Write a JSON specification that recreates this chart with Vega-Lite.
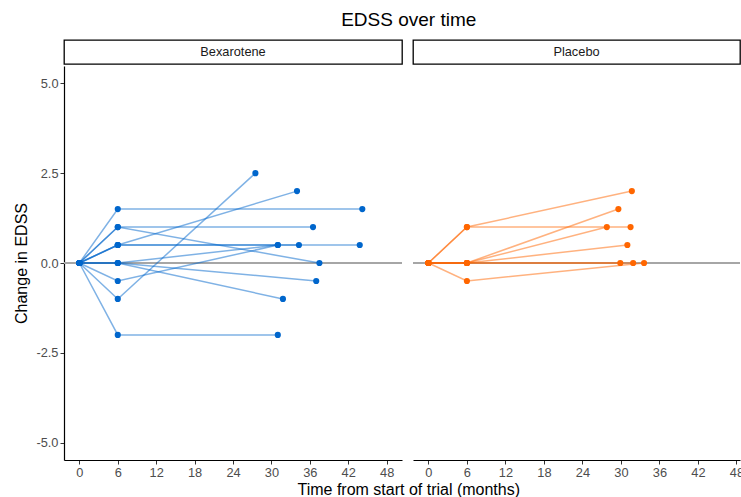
{
  "$schema": "https://vega.github.io/schema/vega-lite/v6.json",
  "padding": {"left": 13, "top": 11, "right": 0, "bottom": 0},
  "background": "white",
  "config": {
    "font": "Liberation Sans",
    "view": {"stroke": null},
    "axis": {
      "grid": false,
      "domainColor": "black",
      "domainWidth": 1.2,
      "tickColor": "#333333",
      "tickSize": 4,
      "tickWidth": 1,
      "labelColor": "#4d4d4d",
      "labelFontSize": 12.8,
      "labelFont": "Liberation Sans",
      "labelPadding": 2,
      "titleFont": "Liberation Sans",
      "titleFontSize": 16,
      "titleFontWeight": "normal",
      "titleColor": "black"
    },
    "concat": {"spacing": 9}
  },
  "title": {
    "text": "EDSS over time",
    "fontSize": 19,
    "fontWeight": "normal",
    "font": "Liberation Sans",
    "color": "black",
    "anchor": "middle",
    "offset": 9,
    "dx": 30
  },
  "datasets": {
    "edss": [
      {"patient": "B1", "arm": "Bexarotene", "month": 0, "change": 0},
      {"patient": "B1", "arm": "Bexarotene", "month": 6, "change": 1.5},
      {"patient": "B1", "arm": "Bexarotene", "month": 44.2, "change": 1.5},
      {"patient": "B2", "arm": "Bexarotene", "month": 0, "change": 0},
      {"patient": "B2", "arm": "Bexarotene", "month": 6, "change": 1.0},
      {"patient": "B2", "arm": "Bexarotene", "month": 36.5, "change": 1.0},
      {"patient": "B3", "arm": "Bexarotene", "month": 0, "change": 0},
      {"patient": "B3", "arm": "Bexarotene", "month": 6, "change": 1.0},
      {"patient": "B3", "arm": "Bexarotene", "month": 37.5, "change": 0},
      {"patient": "B4", "arm": "Bexarotene", "month": 0, "change": 0},
      {"patient": "B4", "arm": "Bexarotene", "month": 6, "change": 0.5},
      {"patient": "B4", "arm": "Bexarotene", "month": 34.0, "change": 2.0},
      {"patient": "B5", "arm": "Bexarotene", "month": 0, "change": 0},
      {"patient": "B5", "arm": "Bexarotene", "month": 6, "change": 0.5},
      {"patient": "B5", "arm": "Bexarotene", "month": 43.8, "change": 0.5},
      {"patient": "B6", "arm": "Bexarotene", "month": 0, "change": 0},
      {"patient": "B6", "arm": "Bexarotene", "month": 6, "change": 0.5},
      {"patient": "B6", "arm": "Bexarotene", "month": 34.3, "change": 0.5},
      {"patient": "B7", "arm": "Bexarotene", "month": 0, "change": 0},
      {"patient": "B7", "arm": "Bexarotene", "month": 6, "change": 0},
      {"patient": "B7", "arm": "Bexarotene", "month": 31.0, "change": 0.5},
      {"patient": "B8", "arm": "Bexarotene", "month": 0, "change": 0},
      {"patient": "B8", "arm": "Bexarotene", "month": 6, "change": 0},
      {"patient": "B8", "arm": "Bexarotene", "month": 37.0, "change": -0.5},
      {"patient": "B9", "arm": "Bexarotene", "month": 0, "change": 0},
      {"patient": "B9", "arm": "Bexarotene", "month": 6, "change": 0},
      {"patient": "B9", "arm": "Bexarotene", "month": 31.8, "change": -1.0},
      {"patient": "B10", "arm": "Bexarotene", "month": 0, "change": 0},
      {"patient": "B10", "arm": "Bexarotene", "month": 6, "change": -0.5},
      {"patient": "B10", "arm": "Bexarotene", "month": 31.0, "change": 0.5},
      {"patient": "B11", "arm": "Bexarotene", "month": 0, "change": 0},
      {"patient": "B11", "arm": "Bexarotene", "month": 6, "change": -1.0},
      {"patient": "B11", "arm": "Bexarotene", "month": 27.5, "change": 2.5},
      {"patient": "B12", "arm": "Bexarotene", "month": 0, "change": 0},
      {"patient": "B12", "arm": "Bexarotene", "month": 6, "change": -2.0},
      {"patient": "B12", "arm": "Bexarotene", "month": 31.0, "change": -2.0},
      {"patient": "P1", "arm": "Placebo", "month": 0, "change": 0},
      {"patient": "P1", "arm": "Placebo", "month": 6, "change": 1.0},
      {"patient": "P1", "arm": "Placebo", "month": 31.7, "change": 2.0},
      {"patient": "P2", "arm": "Placebo", "month": 0, "change": 0},
      {"patient": "P2", "arm": "Placebo", "month": 6, "change": 1.0},
      {"patient": "P2", "arm": "Placebo", "month": 31.5, "change": 1.0},
      {"patient": "P3", "arm": "Placebo", "month": 0, "change": 0},
      {"patient": "P3", "arm": "Placebo", "month": 6, "change": 0},
      {"patient": "P3", "arm": "Placebo", "month": 29.6, "change": 1.5},
      {"patient": "P4", "arm": "Placebo", "month": 0, "change": 0},
      {"patient": "P4", "arm": "Placebo", "month": 6, "change": 0},
      {"patient": "P4", "arm": "Placebo", "month": 27.8, "change": 1.0},
      {"patient": "P5", "arm": "Placebo", "month": 0, "change": 0},
      {"patient": "P5", "arm": "Placebo", "month": 6, "change": 0},
      {"patient": "P5", "arm": "Placebo", "month": 31.0, "change": 0.5},
      {"patient": "P6", "arm": "Placebo", "month": 0, "change": 0},
      {"patient": "P6", "arm": "Placebo", "month": 6, "change": 0},
      {"patient": "P6", "arm": "Placebo", "month": 29.9, "change": 0},
      {"patient": "P7", "arm": "Placebo", "month": 0, "change": 0},
      {"patient": "P7", "arm": "Placebo", "month": 6, "change": 0},
      {"patient": "P7", "arm": "Placebo", "month": 31.9, "change": 0},
      {"patient": "P8", "arm": "Placebo", "month": 0, "change": 0},
      {"patient": "P8", "arm": "Placebo", "month": 6, "change": -0.5},
      {"patient": "P8", "arm": "Placebo", "month": 33.6, "change": 0}
    ],
    "arms": [
      {"arm": "Bexarotene"},
      {"arm": "Placebo"}
    ]
  },
  "vconcat": [
    {
      "title": {
        "text": "Time from start of trial (months)",
        "orient": "bottom",
        "anchor": "middle",
        "fontSize": 16,
        "fontWeight": "normal",
        "font": "Liberation Sans",
        "color": "black",
        "offset": 3,
        "dx": 30
      },
      "hconcat": [
        {
          "spacing": 1,
          "vconcat": [
            {
              "width": 338,
              "height": 24,
              "data": {"name": "arms"},
              "transform": [{"filter": "datum.arm === 'Bexarotene'"}],
              "mark": {"type": "text", "fontSize": 12.8, "color": "#1a1a1a", "font": "Liberation Sans", "baseline": "middle"},
              "encoding": {"text": {"field": "arm"}},
              "view": {"stroke": "black", "strokeWidth": 1.3, "fill": "white"}
            },
            {
              "width": 338,
              "height": 394,
              "data": {"name": "edss"},
              "transform": [{"filter": "datum.arm === 'Bexarotene'"}],
              "encoding": {
                "y": {
                  "field": "change", "type": "quantitative",
                  "scale": {"domain": [-5.48, 5.48], "nice": false, "zero": false},
                  "axis": {
                    "values": [-5, -2.5, 0, 2.5, 5],
                    "title": "Change in EDSS",
                    "titlePadding": 6,
                    "labelExpr": "replace(format(datum.value, '.1f'), '\u2212', '-')"
                  }
                }
              },
              "layer": [
                {
                  "mark": {"type": "rule", "color": "#a6a6a6", "strokeWidth": 1.2},
                  "encoding": {"y": {"datum": 0, "type": "quantitative"}}
                },
                {
                  "mark": {"type": "line", "strokeWidth": 1.5, "opacity": 0.5},
                  "encoding": {
                    "x": {
                      "field": "month", "type": "quantitative",
                      "scale": {"domain": [-2.4, 50.4], "nice": false, "zero": false},
                      "axis": {"values": [0, 6, 12, 18, 24, 30, 36, 42, 48], "title": null}
                    },
                    "detail": {"field": "patient"},
                    "color": {
                      "field": "arm", "type": "nominal",
                      "scale": {"domain": ["Bexarotene", "Placebo"], "range": ["#0066cc", "#ff6600"]},
                      "legend": null
                    }
                  }
                },
                {
                  "mark": {"type": "point", "filled": true, "size": 38, "opacity": 1},
                  "encoding": {
                    "x": {"field": "month", "type": "quantitative"},
                    "color": {"field": "arm", "type": "nominal", "legend": null}
                  }
                }
              ]
            }
          ]
        },
        {
          "spacing": 1,
          "vconcat": [
            {
              "width": 327,
              "height": 24,
              "data": {"name": "arms"},
              "transform": [{"filter": "datum.arm === 'Placebo'"}],
              "mark": {"type": "text", "fontSize": 12.8, "color": "#1a1a1a", "font": "Liberation Sans", "baseline": "middle"},
              "encoding": {"text": {"field": "arm"}},
              "view": {"stroke": "black", "strokeWidth": 1.3, "fill": "white"}
            },
            {
              "width": 327,
              "height": 394,
              "data": {"name": "edss"},
              "transform": [{"filter": "datum.arm === 'Placebo'"}],
              "encoding": {
                "y": {
                  "field": "change", "type": "quantitative",
                  "scale": {"domain": [-5.48, 5.48], "nice": false, "zero": false},
                  "axis": null
                }
              },
              "layer": [
                {
                  "mark": {"type": "rule", "color": "#a6a6a6", "strokeWidth": 1.2},
                  "encoding": {"y": {"datum": 0, "type": "quantitative"}}
                },
                {
                  "mark": {"type": "line", "strokeWidth": 1.5, "opacity": 0.5},
                  "encoding": {
                    "x": {
                      "field": "month", "type": "quantitative",
                      "scale": {"domain": [-2.4, 48.55], "nice": false, "zero": false},
                      "axis": {"values": [0, 6, 12, 18, 24, 30, 36, 42, 48], "title": null}
                    },
                    "detail": {"field": "patient"},
                    "color": {
                      "field": "arm", "type": "nominal",
                      "scale": {"domain": ["Bexarotene", "Placebo"], "range": ["#0066cc", "#ff6600"]},
                      "legend": null
                    }
                  }
                },
                {
                  "mark": {"type": "point", "filled": true, "size": 38, "opacity": 1},
                  "encoding": {
                    "x": {"field": "month", "type": "quantitative"},
                    "color": {"field": "arm", "type": "nominal", "legend": null}
                  }
                }
              ]
            }
          ]
        }
      ],
      "resolve": {"scale": {"x": "independent", "y": "independent"}}
    }
  ]
}
